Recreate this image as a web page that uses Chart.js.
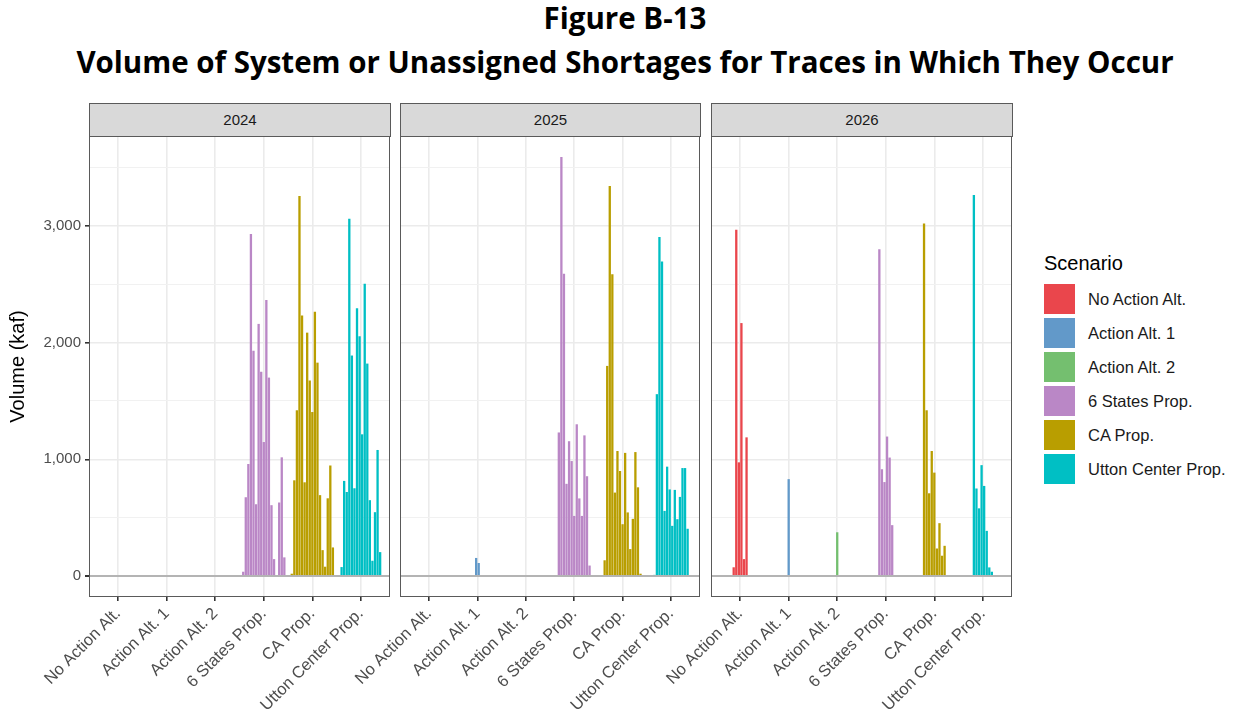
<!DOCTYPE html>
<html>
<head>
<meta charset="utf-8">
<script src="https://cdn.jsdelivr.net/npm/chart.js@4.4.1/dist/chart.umd.min.js"></script>
<style>
  html, body { margin: 0; padding: 0; background: #ffffff; }
  body { width: 1239px; height: 717px; position: relative; overflow: hidden;
         font-family: "Liberation Sans", Arial, sans-serif; }
  .title { position: absolute; left: 0; width: 1250px; text-align: center;
           font-family: "Open Sans", "Noto Sans", sans-serif; font-weight: 700;
           font-size: 29.5px; color: #000; line-height: 1; white-space: nowrap; }
  #t1 { top: 3px; }
  #t2 { top: 47px; }
  canvas { position: absolute; }
  .strip { position: absolute; top: 103px; height: 34px; box-sizing: border-box;
           background: #D9D9D9; border: 1px solid #5a5a5a; color: #1A1A1A;
           font-size: 15px; text-align: center; line-height: 32px; }
  #legend { position: absolute; left: 1044px; top: 250px; }
  #legend .lt { font-size: 20px; color: #000; height: 26px; line-height: 26px; margin-bottom: 6px; }
  #legend .row { height: 34px; display: flex; align-items: center; }
  #legend .key { width: 31px; height: 30px; margin-right: 13px; }
  #legend .lab { font-size: 16.5px; color: #1A1A1A; }
</style>
</head>
<body>
<div class="title" id="t1">Figure B-13</div>
<div class="title" id="t2">Volume of System or Unassigned Shortages for Traces in Which They Occur</div>

<div class="strip" style="left:89px;width:302px;">2024</div>
<div class="strip" style="left:400px;width:301px;">2025</div>
<div class="strip" style="left:711px;width:302px;">2026</div>

<canvas id="p2024" width="391" height="587" style="left:0px;top:130px;"></canvas>
<canvas id="p2025" width="390" height="587" style="left:311px;top:130px;"></canvas>
<canvas id="p2026" width="391" height="587" style="left:622px;top:130px;"></canvas>

<div id="legend"></div>

<script>
// Scenarios shown along each panel's x axis, and their fill colours
const SCENARIOS = ['No Action Alt.', 'Action Alt. 1', 'Action Alt. 2', '6 States Prop.', 'CA Prop.', 'Utton Center Prop.'];
const COLORS = ['#EA464C', '#6299C9', '#74BF6F', '#BA87C6', '#B99E00', '#00BFC4'];
const YEARS = ['2024', '2025', '2026'];
const Y_TICKS = [0, 500, 1000, 1500, 2000, 2500, 3000, 3500];

// Shortage volume (kaf) per trace, for the traces in which a shortage occurs
const v2024_noAction = [];
const v2024_alt1 = [];
const v2024_alt2 = [];
const v2024_sixStates = [37, 675, 960, 2930, 1930, 615, 2160, 1750, 1148, 2365, 1700, 607, 145, 0, 630, 1017, 160];
const v2024_ca = [20, 820, 1420, 3255, 2232, 803, 2085, 1675, 1405, 2265, 1828, 693, 222, 80, 666, 947, 245];
const v2024_utton = [77, 815, 720, 3060, 1889, 752, 2293, 2054, 1214, 2504, 1820, 650, 131, 547, 1080, 205];

const v2025_noAction = [];
const v2025_alt1 = [155, 112];
const v2025_alt2 = [];
const v2025_sixStates = [1230, 3590, 2590, 790, 1155, 985, 515, 1300, 665, 515, 1205, 855, 90];
const v2025_ca = [135, 1800, 3342, 2585, 715, 1071, 900, 444, 1055, 545, 231, 490, 1062, 760, 20];
const v2025_utton = [10, 1558, 2905, 2695, 558, 937, 742, 430, 738, 487, 678, 925, 925, 405];

const v2026_noAction = [75, 2966, 974, 2167, 145, 1188];
const v2026_alt1 = [830];
const v2026_alt2 = [375];
const v2026_sixStates = [2800, 915, 805, 1195, 1015, 436];
const v2026_ca = [3020, 1420, 709, 1071, 886, 236, 453, 174, 259];
const v2026_utton = [3265, 750, 580, 950, 772, 387, 74, 37];

const PANELS = {
  '2024': [v2024_noAction, v2024_alt1, v2024_alt2, v2024_sixStates, v2024_ca, v2024_utton],
  '2025': [v2025_noAction, v2025_alt1, v2025_alt2, v2025_sixStates, v2025_ca, v2025_utton],
  '2026': [v2026_noAction, v2026_alt1, v2026_alt2, v2026_sixStates, v2026_ca, v2026_utton]
};

// Dodge: every bar gets the same width, 0.9 of a category split by the largest group
const allSeries = YEARS.flatMap(y => PANELS[y]);
const MAX_N = Math.max(...allSeries.map(s => s.length));
const BAR_W = 0.9 / MAX_N;
const DATA_MAX = Math.max(...allSeries.flat());
const Y_MIN = -0.05 * DATA_MAX;
const Y_MAX = 1.05 * DATA_MAX;

const FONT_FAMILY = '"Liberation Sans", Arial, sans-serif';

// Frame around each panel's plotting area
const panelBorder = {
  id: 'panelBorder',
  afterDraw(chart) {
    const { ctx, chartArea: a } = chart;
    ctx.save();
    ctx.strokeStyle = '#5a5a5a';
    ctx.lineWidth = 1;
    ctx.strokeRect(a.left + 0.5, a.top + 0.5, a.right - a.left - 1, a.bottom - a.top - 1);
    ctx.restore();
  }
};

function makePanel(year, showY) {
  const series = PANELS[year];
  const datasets = SCENARIOS.map((name, s) => ({
    label: name,
    data: series[s].map((v, i) => ({ x: s + 1 + (i - (series[s].length - 1) / 2) * BAR_W, y: v })),
    backgroundColor: COLORS[s],
    borderWidth: 0,
    grouped: false,
    categoryPercentage: 1,
    barPercentage: 0.9
  }));

  return new Chart(document.getElementById('p' + year), {
    type: 'bar',
    data: { datasets },
    options: {
      responsive: false,
      animation: false,
      devicePixelRatio: 1,
      layout: { padding: { top: 6, right: 1, left: 0, bottom: 0 } },
      plugins: { legend: { display: false }, tooltip: { enabled: false } },
      scales: {
        x: {
          type: 'linear',
          min: 0.4,
          max: SCENARIOS.length + 0.6,
          offset: false,
          afterBuildTicks: sc => { sc.ticks = SCENARIOS.map((_, i) => ({ value: i + 1 })); },
          afterFit: sc => { sc.height = 120; sc.paddingLeft = 0; sc.paddingRight = 0; },
          border: { display: false },
          grid: { offset: false, color: '#EBEBEB', lineWidth: 1.6, tickColor: '#333333', tickLength: 4 },
          ticks: {
            autoSkip: false, minRotation: 45, maxRotation: 45, padding: 3,
            color: '#4D4D4D', font: { family: FONT_FAMILY, size: 16.5 },
            callback: v => SCENARIOS[Math.round(v) - 1]
          }
        },
        y: {
          min: Y_MIN,
          max: Y_MAX,
          afterBuildTicks: sc => { sc.ticks = Y_TICKS.map(v => ({ value: v })); },
          afterFit: sc => { sc.width = 89; sc.paddingTop = 0; sc.paddingBottom = 0; },
          border: { display: false },
          grid: {
            drawTicks: showY,
            tickLength: 4,
            tickColor: c => (c.tick && c.tick.value % 1000 === 0) ? '#333333' : 'rgba(0,0,0,0)',
            color: c => {
              if (!c.tick) return '#EBEBEB';
              if (c.tick.value === 0) return '#B4B4B4';
              return c.tick.value % 1000 === 0 ? '#EBEBEB' : '#F1F1F1';
            },
            lineWidth: c => {
              if (!c.tick) return 1;
              if (c.tick.value === 0) return 2;
              return c.tick.value % 1000 === 0 ? 1.6 : 1;
            }
          },
          ticks: {
            display: showY,
            padding: 4,
            color: '#4D4D4D',
            font: { family: FONT_FAMILY, size: 15 },
            callback: v => (v % 1000 === 0 ? v.toLocaleString('en-US') : '')
          },
          title: {
            display: showY,
            text: 'Volume (kaf)',
            color: '#000000',
            font: { family: FONT_FAMILY, size: 20 },
            padding: { top: 6, bottom: 0 }
          }
        }
      }
    },
    plugins: [panelBorder]
  });
}

YEARS.forEach((y, i) => makePanel(y, i === 0));

// Legend
const legend = document.getElementById('legend');
const lt = document.createElement('div');
lt.className = 'lt';
lt.textContent = 'Scenario';
legend.appendChild(lt);
SCENARIOS.forEach((name, s) => {
  const row = document.createElement('div');
  row.className = 'row';
  const key = document.createElement('div');
  key.className = 'key';
  key.style.background = COLORS[s];
  const lab = document.createElement('div');
  lab.className = 'lab';
  lab.textContent = name;
  row.appendChild(key);
  row.appendChild(lab);
  legend.appendChild(row);
});
</script>
</body>
</html>
